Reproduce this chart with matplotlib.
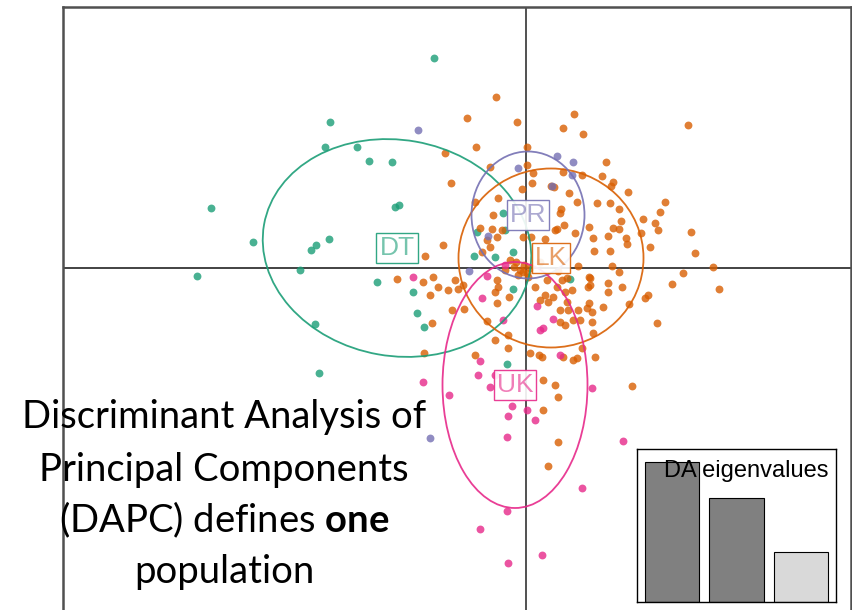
import numpy as np
import matplotlib
matplotlib.use("Agg")
import matplotlib.pyplot as plt
from matplotlib.patches import Ellipse

plt.rcParams['mathtext.fontset'] = 'custom'
plt.rcParams['mathtext.rm'] = 'Lato'
plt.rcParams['mathtext.bf'] = 'Lato:bold'

# DAPC scores (LD1, LD2) per sampling site
dt_ld1 = [-19.6, -9.2, -20.1, -16.9, -15.7, -13.4, -13.1, -12.7, -31.5, -27.3, -21.5, -21.0,
          -19.7, -22.6, -32.9, -14.9, -10.9, -21.1, -10.2, -20.7, -11.3, -1.3, -1.9, 4.4,
          -4.9, -5.2, -3.1, -2.3, -2.1, -1.3]
dt_ld2 = [14.6, 21.0, 12.1, 12.1, 10.7, 10.6, 6.1, 6.3, 6.0, 2.6, 1.8, 2.3,
          2.9, -0.2, -0.8, -1.4, -4.5, -5.6, -5.9, -10.5, -2.4, -2.1, -9.6, -1.1,
          3.6, 1.2, 1.1, 5.5, 3.8, 1.6]

pr_ld1 = [-10.8, 3.1, 4.7, -0.8, 4.6, 2.6, -3.8, -5.7, -9.6]
pr_ld2 = [13.8, 11.2, 10.6, 10.0, 9.3, 8.2, 3.2, -0.3, -17.0]

uk_ld1 = [-11.3, -3.9, -4.4, -2.3, 1.1, 2.7, 1.4, 1.7, 3.4, -4.6, -4.8, -3.1, -3.6, -7.7,
          -10.3, -1.4, -1.8, 0.1, 0.9, -1.9, 6.6, 9.7, 5.6, -1.9, -4.6, 1.6, -1.8, -2.1]
uk_ld2 = [-0.9, -0.8, -3.0, -5.2, -3.8, -5.1, -6.2, -6.0, -8.7, -9.3, -10.7, -10.7, -11.9, -12.7,
          -11.4, -13.8, -14.8, -14.2, -15.2, -16.9, -12.0, -17.3, -22.0, -24.3, -26.1, -28.7, -29.5, 0.3]

lk_ld1 = [-3.0, -5.9, -0.9, 4.8, 3.7, 5.7, 16.2, -5.0, 0.1, -8.1, -3.6, 0.1, 0.7, 3.7, 5.6,
          8.0, 7.6, 8.7, -7.5, 0.6, 2.5, 2.8, 8.5, 4.3, 10.2, -0.4, 13.9, 13.4, 7.1, 8.4,
          9.3, -5.1, -2.8, 5.1, 3.5, 3.4, 9.5, 11.7, 12.9, 13.2, -3.3, -3.4, -2.4, -0.3, 0.5,
          1.9, 2.9, 3.8, 4.9, 6.3, 6.7, 8.2, 8.7, 9.3, 10.0, 10.1, 12.4, 16.5, 16.9, 6.8,
          8.4, -8.3, -10.1, -3.6, -3.9, -4.4, -2.9, 5.2, 8.6, 9.3, 15.7, 18.7, 19.3, 14.6, 12.2,
          10.3, 7.7, 6.3, 6.2, 4.6, 4.1, 3.2, 2.1, 0.9, 0.1, -0.6, -1.6, -1.2, -0.3, 0.2,
          -2.9, -3.1, -1.7, -2.9, -7.1, -6.3, -7.8, -9.3, -10.3, -9.6, 2.7, 2.2, 4.1, 11.5, 3.1,
          6.3, -4.6, -12.9, -8.8, -6.8, -2.8, -7.4, -6.2, -3.9, -1.8, -3.1, -1.8, -10.2, -5.1, 1.3,
          1.4, 1.9, 3.1, 3.9, 3.4, 4.2, 5.2, 6.1, 6.6, 4.7, 3.4, 3.9, 5.4, 6.6, 6.7,
          5.6, 4.7, 5.1, 6.9, 3.7, 1.6, 3.6, 6.4, 6.4, -9.4, 0.4, 13.1, 1.7, 2.9, 3.2,
          1.7, 3.2, 2.2, 10.6, 8.2, 8.2, 9.6, 11.9, -1.0, -0.2, -0.8, 0.4, 1.4, -2.1]
lk_ld2 = [17.1, 15.0, 14.6, 15.4, 14.0, 13.4, 14.3, 12.1, 12.1, 11.5, 10.1, 10.3, 9.5, 9.6, 9.3,
          10.6, 9.2, 8.6, 8.5, 8.5, 8.2, 8.1, 8.2, 7.5, 7.6, 7.9, 6.6, 5.6, 6.5, 6.5,
          5.9, 6.6, 7.0, 6.6, 5.9, 5.5, 4.7, 4.9, 4.5, 3.8, 5.3, 3.9, 3.8, 3.1, 3.1,
          2.9, 3.8, 4.3, 3.5, 4.1, 3.0, 3.2, 4.0, 3.9, 3.0, 2.4, 2.1, 3.6, 1.5, 1.7,
          1.7, 2.3, 1.2, 2.1, 2.8, 1.6, 3.1, 0.2, 0.2, -0.4, -0.5, 0.1, -2.1, -1.6, -2.7,
          -3.6, -3.9, -3.5, -1.9, -2.2, -1.0, -0.3, -1.2, -1.9, -0.5, -0.2, 0.8, 0.1, -0.4, -0.9,
          -1.2, -2.4, -2.9, -3.5, -1.2, -1.7, -2.2, -0.9, -1.4, -2.7, -2.9, -3.4, -3.4, 3.5, 3.9,
          -0.9, 4.0, -1.1, -1.9, -2.1, -1.9, -4.2, -4.1, -5.3, -6.7, -7.2, -8.0, -8.5, -8.7, -8.7,
          -3.2, -2.7, -1.9, -2.4, -4.2, -4.2, -4.2, -4.0, -4.4, -5.2, -5.4, -5.7, -5.2, -5.4, -6.5,
          -8.0, -9.2, -9.0, -8.9, -8.9, -8.9, -1.2, -1.0, -1.7, -5.5, -8.5, -5.5, -11.2, -11.7, -12.9,
          -14.2, -17.4, -19.8, -11.8, -1.5, -2.4, -1.9, -3.0, 0.6, 0.3, -0.7, 0.0, 0.6, -0.2]

groups = ['DT', 'LK', 'PR', 'UK']
group_colors = ['#1B9E77', '#D95F02', '#7570B3', '#E7298A']

# inertia ellipses: centre, full width, full height, angle
ell_center = [(-12.9, 2.0), (2.5, 1.0), (0.2, 5.3), (-1.1, -11.7)]
ell_width = [27.0, 18.5, 11.3, 14.5]
ell_height = [21.6, 17.9, 12.7, 24.6]
ell_angle = [-10, 0, 0, 0]

eig_values = [1.0, 0.74, 0.36]
eig_colors = ['#808080', '#808080', '#d9d9d9']

fig = plt.figure(figsize=(8.52, 6.10), dpi=100)
ax = fig.add_axes([63 / 852, -10 / 610, 788 / 852, 613 / 610])
ax.set_xlim(-46.3, 32.5)
ax.set_ylim(-35.2, 26.1)
ax.set_xticks([])
ax.set_yticks([])
for sp in ax.spines.values():
    sp.set_color('#505050')
    sp.set_linewidth(1.8)

ax.axhline(0, color='#222222', lw=1.2, zorder=1)
ax.axvline(0, color='#333333', lw=1.2, zorder=1)

scores = [(dt_ld1, dt_ld2), (lk_ld1, lk_ld2), (pr_ld1, pr_ld2), (uk_ld1, uk_ld2)]
for (x, y), col in zip(scores, group_colors):
    ax.scatter(x, y, s=32, color=col, alpha=0.8, linewidths=0, zorder=2)

for name, col, c, w, h, a in zip(groups, group_colors, ell_center, ell_width, ell_height, ell_angle):
    ax.add_patch(Ellipse(c, w, h, angle=a, fill=False, edgecolor=col, lw=1.3, alpha=0.9, zorder=3))
    ax.text(c[0], c[1], name, ha='center', va='center', fontsize=19, color=col, alpha=0.6,
            family='Liberation Sans', zorder=4,
            bbox=dict(boxstyle='square,pad=0.12', fc='white', ec=col, lw=1.0, alpha=0.9))

# eigenvalue inset
axi = fig.add_axes([637 / 852, 1 - 602 / 610, 199 / 852, 153 / 610])
axi.bar(range(len(eig_values)), eig_values, width=0.84, color=eig_colors, edgecolor='black', lw=0.8)
axi.set_xlim(-0.54, 2.54)
axi.set_ylim(0, 1.093)
axi.set_xticks([])
axi.set_yticks([])
for sp in axi.spines.values():
    sp.set_linewidth(1.0)
axi.text(0.96, 0.855, 'DA eigenvalues', transform=axi.transAxes, ha='right', va='center',
         fontsize=17, family='Liberation Sans')

lines = ['Discriminant Analysis of', 'Principal Components',
         r'(DAPC) defines $\bf{one}$', 'population']
baselines = [428, 481, 532, 583]
for txt, yb in zip(lines, baselines):
    fig.text(224 / 852, 1 - yb / 610, txt, ha='center', va='baseline',
             fontsize=27.5, family='Lato', color='black')

fig.savefig('out.png', dpi=100)
